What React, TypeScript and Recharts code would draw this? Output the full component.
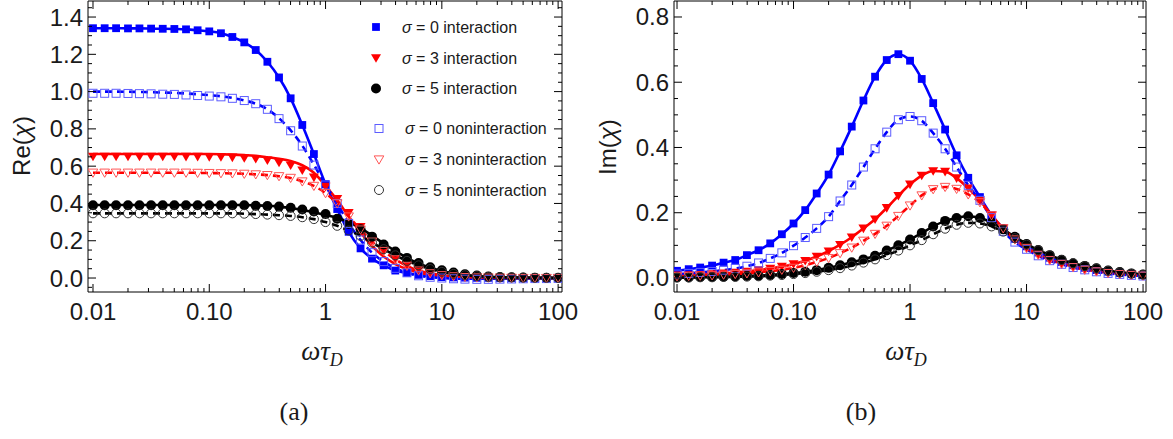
import React from "react";
import { ComposedChart, Line, Scatter, XAxis, YAxis } from "recharts";

// angular frequency grid, omega * tau_D (10 points per decade)
const omega = [
  0.01, 0.0126, 0.0158, 0.02, 0.0251, 0.0316, 0.0398, 0.0501, 0.0631, 0.0794,
  0.1, 0.126, 0.158, 0.2, 0.251, 0.316, 0.398, 0.501, 0.631, 0.794,
  1, 1.26, 1.58, 2, 2.51, 3.16, 3.98, 5.01, 6.31, 7.94,
  10, 12.6, 15.8, 20, 25.1, 31.6, 39.8, 50.1, 63.1, 79.4, 100,
];

// (a) Re(chi)
const reSigma0Int = [
  1.34, 1.34, 1.34, 1.339, 1.339, 1.338, 1.337, 1.336, 1.334, 1.329,
  1.323, 1.313, 1.293, 1.264, 1.223, 1.16, 1.076, 0.964, 0.821, 0.665,
  0.504, 0.37, 0.248, 0.159, 0.104, 0.068, 0.04, 0.027, 0.017, 0.01,
  0.005, 0.003, 0.002, 0.001, 0.001, 0, 0, 0, 0, 0, 0,
];
const reSigma3Int = [
  0.652, 0.652, 0.652, 0.652, 0.652, 0.652, 0.652, 0.652, 0.651, 0.651,
  0.65, 0.649, 0.647, 0.644, 0.64, 0.632, 0.62, 0.605, 0.578, 0.54,
  0.49, 0.425, 0.35, 0.275, 0.205, 0.148, 0.103, 0.07, 0.046, 0.03,
  0.019, 0.012, 0.008, 0.005, 0.003, 0.002, 0.001, 0.001, 0, 0, 0,
];
const reSigma5Int = [
  0.39, 0.39, 0.39, 0.39, 0.39, 0.39, 0.39, 0.39, 0.39, 0.39,
  0.39, 0.39, 0.39, 0.39, 0.388, 0.386, 0.383, 0.377, 0.368, 0.357,
  0.343, 0.318, 0.29, 0.262, 0.222, 0.18, 0.142, 0.108, 0.08, 0.058,
  0.042, 0.03, 0.02, 0.013, 0.008, 0.005, 0.004, 0.003, 0.002, 0.001, 0.001,
];
const reSigma0Non = [
  0.991, 0.991, 0.991, 0.99, 0.989, 0.988, 0.986, 0.985, 0.982, 0.979,
  0.976, 0.972, 0.964, 0.952, 0.935, 0.905, 0.855, 0.79, 0.708, 0.606,
  0.499, 0.4, 0.293, 0.204, 0.136, 0.088, 0.052, 0.028, 0.012, 0.004,
  0, -0.004, -0.006, -0.007, -0.007, -0.006, -0.005, -0.004, -0.003, -0.003, -0.002,
];
const reSigma3Non = [
  0.565, 0.565, 0.565, 0.565, 0.565, 0.565, 0.565, 0.565, 0.565, 0.564,
  0.563, 0.562, 0.561, 0.559, 0.556, 0.552, 0.546, 0.537, 0.518, 0.494,
  0.455, 0.4, 0.33, 0.26, 0.195, 0.145, 0.1, 0.065, 0.04, 0.025,
  0.015, 0.009, 0.005, 0.003, 0.002, 0.001, 0.001, 0, 0, 0, 0,
];
const reSigma5Non = [
  0.347, 0.347, 0.347, 0.347, 0.347, 0.347, 0.347, 0.347, 0.347, 0.347,
  0.347, 0.347, 0.347, 0.345, 0.343, 0.34, 0.337, 0.333, 0.326, 0.316,
  0.3, 0.28, 0.255, 0.226, 0.19, 0.155, 0.122, 0.092, 0.068, 0.048,
  0.033, 0.022, 0.015, 0.01, 0.006, 0.004, 0.003, 0.002, 0.001, 0.001, 0,
];
// theory curves that sit off the simulation points
const reSigma0NonCurve = [
  1.0, 1.0, 1.0, 0.999, 0.998, 0.997, 0.995, 0.993, 0.99, 0.986,
  0.981, 0.975, 0.966, 0.953, 0.935, 0.905, 0.857, 0.792, 0.71, 0.608,
  0.5, 0.4, 0.293, 0.204, 0.136, 0.088, 0.052, 0.028, 0.012, 0.004,
  0, -0.003, -0.004, -0.004, -0.004, -0.003, -0.003, -0.002, -0.002, -0.001, -0.001,
];
const reSigma3IntCurve = [
  0.665, 0.665, 0.665, 0.665, 0.665, 0.665, 0.665, 0.665, 0.665, 0.665,
  0.665, 0.664, 0.662, 0.659, 0.655, 0.648, 0.64, 0.628, 0.605, 0.565,
  0.495, 0.418, 0.33, 0.245, 0.172, 0.115, 0.075, 0.048, 0.03, 0.018,
  0.01, 0.006, 0.004, 0.002, 0.001, 0, 0, 0, 0, 0, 0,
];
const reSigma5IntCurve = [
  0.392, 0.392, 0.392, 0.392, 0.392, 0.392, 0.392, 0.392, 0.392, 0.392,
  0.392, 0.392, 0.392, 0.391, 0.39, 0.388, 0.383, 0.376, 0.366, 0.352,
  0.338, 0.322, 0.3, 0.268, 0.228, 0.185, 0.145, 0.108, 0.078, 0.055,
  0.038, 0.025, 0.016, 0.01, 0.006, 0.004, 0.002, 0.001, 0.001, 0, 0,
];

// (b) Im(chi)
const imSigma0Int = [
  0.022, 0.027, 0.032, 0.038, 0.047, 0.055, 0.07, 0.085, 0.106, 0.134,
  0.167, 0.208, 0.259, 0.317, 0.388, 0.464, 0.544, 0.617, 0.668, 0.686,
  0.666, 0.61, 0.536, 0.455, 0.376, 0.307, 0.248, 0.192, 0.152, 0.12,
  0.097, 0.078, 0.062, 0.049, 0.039, 0.031, 0.024, 0.019, 0.015, 0.012, 0.009,
];
const imSigma3Int = [
  0.008, 0.009, 0.01, 0.012, 0.014, 0.017, 0.02, 0.024, 0.029, 0.035,
  0.043, 0.053, 0.066, 0.082, 0.102, 0.125, 0.152, 0.18, 0.215, 0.252,
  0.287, 0.314, 0.328, 0.326, 0.306, 0.275, 0.238, 0.192, 0.152, 0.118,
  0.093, 0.072, 0.056, 0.044, 0.034, 0.026, 0.02, 0.016, 0.013, 0.011, 0.009,
];
const imSigma5Int = [
  0.002, 0.002, 0.003, 0.003, 0.004, 0.005, 0.006, 0.007, 0.009, 0.012,
  0.015, 0.019, 0.024, 0.031, 0.039, 0.048, 0.057, 0.068, 0.084, 0.1,
  0.118, 0.138, 0.158, 0.175, 0.184, 0.189, 0.184, 0.17, 0.149, 0.126,
  0.104, 0.086, 0.07, 0.056, 0.045, 0.037, 0.03, 0.023, 0.018, 0.014, 0.011,
];
const imSigma0Non = [
  0.012, 0.014, 0.017, 0.02, 0.024, 0.029, 0.036, 0.046, 0.06, 0.077,
  0.099, 0.124, 0.152, 0.188, 0.236, 0.285, 0.34, 0.396, 0.447, 0.485,
  0.495, 0.482, 0.444, 0.396, 0.34, 0.284, 0.238, 0.185, 0.143, 0.11,
  0.088, 0.068, 0.053, 0.042, 0.032, 0.025, 0.019, 0.014, 0.011, 0.008, 0.006,
];
const imSigma3Non = [
  0.005, 0.006, 0.007, 0.008, 0.01, 0.012, 0.014, 0.017, 0.021, 0.025,
  0.031, 0.039, 0.049, 0.061, 0.076, 0.093, 0.114, 0.135, 0.16, 0.19,
  0.222, 0.253, 0.272, 0.279, 0.273, 0.256, 0.232, 0.192, 0.152, 0.118,
  0.092, 0.071, 0.055, 0.043, 0.033, 0.025, 0.02, 0.015, 0.012, 0.009, 0.007,
];
const imSigma5Non = [
  0.001, 0.001, 0.002, 0.002, 0.003, 0.003, 0.004, 0.005, 0.007, 0.009,
  0.012, 0.015, 0.019, 0.024, 0.03, 0.038, 0.047, 0.057, 0.07, 0.084,
  0.1, 0.116, 0.134, 0.151, 0.163, 0.169, 0.167, 0.158, 0.142, 0.122,
  0.102, 0.085, 0.069, 0.055, 0.045, 0.036, 0.029, 0.022, 0.017, 0.013, 0.01,
];

const xMajorTicks = [0.01, 0.1, 1, 10, 100];
const xMajorLabels = ["0.01", "0.10", "1", "10", "100"];
const xMinorTicks = [
  0.02, 0.03, 0.04, 0.05, 0.06, 0.07, 0.08, 0.09,
  0.2, 0.3, 0.4, 0.5, 0.6, 0.7, 0.8, 0.9,
  2, 3, 4, 5, 6, 7, 8, 9,
  20, 30, 40, 50, 60, 70, 80, 90,
];
const reTicks = [
  -0.05, 0, 0.05, 0.1, 0.15, 0.2, 0.25, 0.3, 0.35, 0.4, 0.45, 0.5, 0.55, 0.6,
  0.65, 0.7, 0.75, 0.8, 0.85, 0.9, 0.95, 1, 1.05, 1.1, 1.15, 1.2, 1.25, 1.3, 1.35, 1.4, 1.45,
];
const imTicks = [
  0, 0.05, 0.1, 0.15, 0.2, 0.25, 0.3, 0.35, 0.4, 0.45, 0.5, 0.55, 0.6, 0.65, 0.7, 0.75, 0.8,
];

const sigmas = ["0", "3", "5"];
const kinds = ["interaction", "noninteraction"];

const SANS = "'Liberation Sans', Arial, sans-serif";
const SERIF = "'Liberation Serif', 'Times New Roman', serif";
const BLUE = "#0000ff";
const BLUE_OPEN = "#5c5cff";
const RED = "#ff0000";
const RED_OPEN = "#ff5555";
const BLACK = "#000000";
const BLACK_OPEN = "#333333";
const AXIS = { stroke: "#000", strokeWidth: 1 };
const xTicks = [...xMajorTicks, ...xMinorTicks];

const pts = (ys: number[]) => omega.map((x, i) => ({ x, y: ys[i] }));

// marker glyphs, drawn at (cx, cy)
function marker(kind: string, color: string, cx: number, cy: number) {
  switch (kind) {
    case "sq":
      return <rect x={cx - 3.9} y={cy - 3.9} width={7.8} height={7.8} fill={color} />;
    case "sqo":
      return <rect x={cx - 4} y={cy - 4} width={8} height={8} fill="none" stroke={color} strokeWidth={1} />;
    case "tri":
      return <polygon points={`${cx - 5},${cy - 3.8} ${cx + 5},${cy - 3.8} ${cx},${cy + 4.8}`} fill={color} />;
    case "trio":
      return <polygon points={`${cx - 4.8},${cy - 3.6} ${cx + 4.8},${cy - 3.6} ${cx},${cy + 4.6}`} fill="none" stroke={color} strokeWidth={1} />;
    case "dot":
      return <circle cx={cx} cy={cy} r={5} fill={color} />;
    default:
      return <circle cx={cx} cy={cy} r={4.5} fill="none" stroke={color} strokeWidth={1} />;
  }
}

type Series = { pts: number[]; curve: number[]; color: string; mcolor: string; shape: string; dashed: boolean };

const reSeries: Series[] = [
  { pts: reSigma0Int, curve: reSigma0Int, color: BLUE, mcolor: BLUE, shape: "sq", dashed: false },
  { pts: reSigma3Int, curve: reSigma3IntCurve, color: RED, mcolor: RED, shape: "tri", dashed: false },
  { pts: reSigma5Int, curve: reSigma5IntCurve, color: BLACK, mcolor: BLACK, shape: "dot", dashed: false },
  { pts: reSigma0Non, curve: reSigma0NonCurve, color: BLUE, mcolor: BLUE_OPEN, shape: "sqo", dashed: true },
  { pts: reSigma3Non, curve: reSigma3Non, color: RED, mcolor: RED_OPEN, shape: "trio", dashed: true },
  { pts: reSigma5Non, curve: reSigma5Non, color: BLACK, mcolor: BLACK_OPEN, shape: "cio", dashed: true },
];
const imSeries: Series[] = [
  { pts: imSigma0Int, curve: imSigma0Int, color: BLUE, mcolor: BLUE, shape: "sq", dashed: false },
  { pts: imSigma3Int, curve: imSigma3Int, color: RED, mcolor: RED, shape: "tri", dashed: false },
  { pts: imSigma5Int, curve: imSigma5Int, color: BLACK, mcolor: BLACK, shape: "dot", dashed: false },
  { pts: imSigma0Non, curve: imSigma0Non, color: BLUE, mcolor: BLUE_OPEN, shape: "sqo", dashed: true },
  { pts: imSigma3Non, curve: imSigma3Non, color: RED, mcolor: RED_OPEN, shape: "trio", dashed: true },
  { pts: imSigma5Non, curve: imSigma5Non, color: BLACK, mcolor: BLACK_OPEN, shape: "cio", dashed: true },
];

const isMajorY = (v: number) => Math.abs(v * 5 - Math.round(v * 5)) < 1e-6;

const xTickBottom = (p: any) => {
  const i = xMajorTicks.indexOf(p.payload.value);
  return (
    <g>
      <line x1={p.x} x2={p.x} y1={p.y} y2={p.y - (i >= 0 ? 8 : 4)} stroke="#000" />
      {i >= 0 && (
        <text x={p.x} y={p.y + 28} textAnchor="middle" fontSize={24} fontFamily={SANS} fill="#1a1a1a">
          {xMajorLabels[i]}
        </text>
      )}
    </g>
  );
};
const xTickTop = (p: any) => {
  const major = xMajorTicks.indexOf(p.payload.value) >= 0;
  return <line x1={p.x} x2={p.x} y1={p.y} y2={p.y + (major ? 8 : 4)} stroke="#000" />;
};
const yTickLeft = (p: any) => {
  const v = p.payload.value;
  const major = isMajorY(v);
  return (
    <g>
      <line x1={p.x} x2={p.x + (major ? 8 : 4)} y1={p.y} y2={p.y} stroke="#000" />
      {major && (
        <text x={p.x - 5} y={p.y + 8.5} textAnchor="end" fontSize={24} fontFamily={SANS} fill="#1a1a1a">
          {Math.abs(v).toFixed(1)}
        </text>
      )}
    </g>
  );
};
const yTickRight = (p: any) => {
  const major = isMajorY(p.payload.value);
  return <line x1={p.x} x2={p.x - (major ? 8 : 4)} y1={p.y} y2={p.y} stroke="#000" />;
};

function Panel({ left, rightMargin, xDomain, yDomain, yTicks, series }: {
  left: number; rightMargin: number; xDomain: number[]; yDomain: number[]; yTicks: number[]; series: Series[];
}) {
  return (
    <div style={{ position: "absolute", left, top: 0 }}>
      <ComposedChart width={580} height={330} margin={{ top: 0, right: rightMargin, bottom: 0, left: 0 }}>
        <XAxis xAxisId="b" dataKey="x" type="number" scale="log" domain={xDomain} allowDataOverflow
          ticks={xTicks} interval={0} tickSize={0} tickMargin={0} tickLine={false} height={38} axisLine={AXIS} tick={xTickBottom} />
        <XAxis xAxisId="t" orientation="top" dataKey="x" type="number" scale="log" domain={xDomain} allowDataOverflow
          ticks={xTicks} interval={0} tickSize={0} tickMargin={0} tickLine={false} height={1} axisLine={AXIS} tick={xTickTop} />
        <YAxis yAxisId="l" dataKey="y" type="number" domain={yDomain} allowDataOverflow
          ticks={yTicks} interval={0} tickSize={0} tickMargin={0} tickLine={false} width={88} axisLine={AXIS} tick={yTickLeft} />
        <YAxis yAxisId="r" orientation="right" dataKey="y" type="number" domain={yDomain} allowDataOverflow
          ticks={yTicks} interval={0} tickSize={0} tickMargin={0} tickLine={false} width={1} axisLine={AXIS} tick={yTickRight} />
        {series.map((s, i) => (
          <Line key={"l" + i} xAxisId="b" yAxisId="l" data={pts(s.curve)} dataKey="y" type="monotone"
            stroke={s.color} strokeWidth={2.6} strokeDasharray={s.dashed ? "7 5" : undefined}
            dot={false} activeDot={false} isAnimationActive={false} />
        ))}
        {series.map((s, i) => (
          <Scatter key={"s" + i} xAxisId="b" yAxisId="l" data={pts(s.pts)} dataKey="y"
            shape={(p: any) => marker(s.shape, s.mcolor, p.cx, p.cy)} isAnimationActive={false} />
        ))}
      </ComposedChart>
    </div>
  );
}

const legendShapes = [["sq", BLUE], ["tri", RED], ["dot", BLACK], ["sqo", BLUE_OPEN], ["trio", RED_OPEN], ["cio", BLACK_OPEN]];
const legendRows = [27, 58, 88.5, 128.5, 159.5, 190];

export default function App() {
  return (
    <div style={{ position: "absolute", left: 0, top: 0, width: 1173, height: 439, background: "#fff", fontFamily: SANS }}>
      <Panel left={0} rightMargin={17} xDomain={[0.00906, 108]} yDomain={[-0.075, 1.486]} yTicks={reTicks} series={reSeries} />
      <Panel left={586} rightMargin={19} xDomain={[0.00942, 106]} yDomain={[-0.043, 0.849]} yTicks={imTicks} series={imSeries} />
      <svg width={1173} height={439} style={{ position: "absolute", left: 0, top: 0, pointerEvents: "none" }}>
        {legendShapes.map(([shape, color], i) => {
          const open = i >= 3;
          const y = legendRows[i];
          return (
            <g key={i}>
              {marker(shape, color, open ? 379 : 376, y)}
              <text x={open ? 405 : 402} y={y + 5.5} fontSize={16} fontFamily={SANS} fill="#1a1a1a">
                <tspan fontStyle="italic">σ</tspan>
                {" = " + sigmas[i % 3] + " " + kinds[open ? 1 : 0]}
              </text>
            </g>
          );
        })}
        <text transform="translate(30,146) rotate(-90)" textAnchor="middle" fontSize={24} fontFamily={SANS} fill="#1a1a1a">
          Re(<tspan fontStyle="italic">χ</tspan>)
        </text>
        <text transform="translate(616,147) rotate(-90)" textAnchor="middle" fontSize={24} fontFamily={SANS} fill="#1a1a1a">
          Im(<tspan fontStyle="italic">χ</tspan>)
        </text>
        {[326, 910].map((cx) => (
          <text key={cx} x={cx - 4} y={360} textAnchor="middle" fontSize={27} fontFamily={SERIF} fontStyle="italic" fill="#1a1a1a">
            ωτ<tspan fontSize={18} dy={6}>D</tspan>
          </text>
        ))}
        <text x={294} y={420} textAnchor="middle" fontSize={26} fontFamily={SERIF} fill="#1a1a1a">(a)</text>
        <text x={861} y={420} textAnchor="middle" fontSize={26} fontFamily={SERIF} fill="#1a1a1a">(b)</text>
      </svg>
    </div>
  );
}
